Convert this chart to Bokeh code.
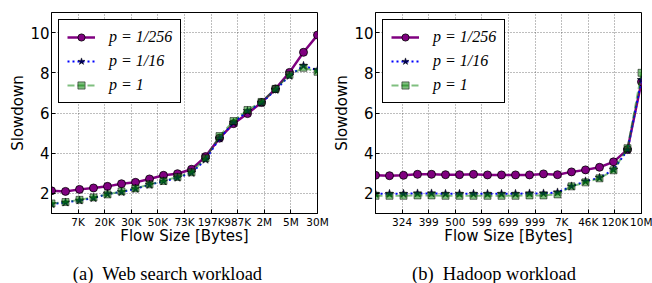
from bokeh.plotting import figure
from bokeh.layouts import row, column
from bokeh.models import FixedTicker, Legend, LegendItem, Range1d, Div
from bokeh.embed import file_html
from bokeh.resources import INLINE

# ---- data ----
series_names = ["p = 1/256", "p = 1/16", "p = 1"]

web_labels = ["7K", "20K", "30K", "50K", "73K", "197K", "987K", "2M", "5M", "30M"]
web_p256 = [2.13, 2.10, 2.20, 2.27, 2.35, 2.48, 2.55, 2.72, 2.90, 2.98,
            3.20, 3.83, 4.75, 5.47, 5.97, 6.52, 7.20, 8.02, 9.02, 9.88]
web_p16 = [1.47, 1.55, 1.65, 1.77, 1.97, 2.07, 2.23, 2.43, 2.60, 2.78,
           3.02, 3.68, 4.73, 5.52, 6.10, 6.50, 7.15, 7.85, 8.35, 8.13]
web_p1 = [1.50, 1.57, 1.68, 1.80, 1.95, 2.10, 2.25, 2.45, 2.62, 2.82,
          3.05, 3.75, 4.85, 5.60, 6.15, 6.55, 7.20, 7.90, 8.25, 8.05]

hadoop_labels = ["324", "399", "500", "599", "699", "999", "7K", "46K", "120K", "10M"]
hadoop_p256 = [2.90, 2.88, 2.90, 2.95, 2.95, 2.93, 2.93, 2.95, 2.92, 2.92,
               2.92, 2.92, 2.97, 2.93, 3.07, 3.17, 3.30, 3.57, 4.18, 7.55]
hadoop_p16 = [1.98, 1.98, 1.98, 2.00, 2.00, 1.98, 1.98, 1.98, 1.98, 1.98,
              1.98, 2.00, 2.00, 2.05, 2.35, 2.60, 2.78, 3.18, 4.15, 7.65]
hadoop_p1 = [1.88, 1.88, 1.88, 1.90, 1.90, 1.88, 1.88, 1.88, 1.88, 1.88,
             1.88, 1.90, 1.90, 1.95, 2.35, 2.55, 2.75, 3.15, 4.25, 8.00]

captions = ["(a)  Web search workload", "(b)  Hadoop workload"]
y_ticks = [2, 4, 6, 8, 10]

PURPLE = "#800080"
BLUE = "#0000ff"
GREEN = "#008000"


def make_fig(labels, s256, s16, s1, width, left_border, right_border):
    n = len(s256)
    nt = len(labels)
    xs = [i * nt / (n - 1) for i in range(n)]
    tick_pos = list(range(1, nt + 1))

    p = figure(width=width, height=250, x_range=Range1d(0, nt), y_range=Range1d(1, 11),
               output_backend="svg", toolbar_location=None,
               min_border_left=left_border, min_border_right=right_border,
               min_border_top=12, min_border_bottom=37)
    p.outline_line_color = "black"
    p.outline_line_width = 1
    p.outline_line_alpha = 1

    p.xaxis.ticker = FixedTicker(ticks=tick_pos)
    p.xaxis.major_label_overrides = {t: lab for t, lab in zip(tick_pos, labels)}
    p.yaxis.ticker = FixedTicker(ticks=y_ticks)
    for ax in (p.xaxis, p.yaxis):
        ax.major_tick_in = 4
        ax.major_tick_out = 0
        ax.minor_tick_line_color = None
        ax.axis_line_color = "black"
        ax.major_label_text_font = "DejaVu Sans"
        ax.axis_label_text_font = "DejaVu Sans"
        ax.axis_label_text_font_style = "normal"
        ax.axis_label_text_font_size = "15px"
        ax.axis_label_text_color = "black"
        ax.major_label_text_color = "black"
    p.xaxis.major_label_text_font_size = "10.5px"
    p.xaxis.major_label_standoff = 2
    p.xaxis.axis_label = "Flow Size [Bytes]"
    p.xaxis.axis_label_standoff = -4
    p.yaxis.major_label_text_font_size = "15px"
    p.yaxis.major_label_standoff = 2
    p.yaxis.axis_label = "Slowdown"
    p.yaxis.axis_label_standoff = 0

    p.grid.grid_line_color = "#333333"
    p.grid.grid_line_dash = "1 2"
    p.grid.grid_line_width = 0.8
    p.grid.grid_line_alpha = 0.8

    l1 = p.line(xs, s256, line_color=PURPLE, line_width=2.5)
    m1 = p.scatter(xs, s256, marker="circle", size=8, fill_color=PURPLE, line_color="black", line_width=0.8)
    l2 = p.line(xs, s16, line_color=BLUE, line_width=2, line_dash="2 3")
    m2 = p.scatter(xs, s16, marker="star", size=9, fill_color="#000060", line_color="black", line_width=0.5)
    l3 = p.line(xs, s1, line_color=GREEN, line_width=2, line_dash="7 3", line_alpha=0.5)
    m3 = p.scatter(xs, s1, marker="square", size=7, fill_color=GREEN, fill_alpha=0.5,
                   line_color="black", line_alpha=0.5, line_width=1)

    legend = Legend(items=[LegendItem(label=series_names[0], renderers=[l1, m1]),
                           LegendItem(label=series_names[1], renderers=[l2, m2]),
                           LegendItem(label=series_names[2], renderers=[l3, m3])],
                    location="top_left", margin=7, padding=8, spacing=6,
                    glyph_width=28, glyph_height=18, label_height=18, label_standoff=14,
                    label_text_font="Liberation Serif", label_text_font_style="italic",
                    label_text_font_size="16px", label_text_color="black",
                    border_line_color="black", border_line_width=1, border_line_alpha=1,
                    background_fill_alpha=1)
    p.add_layout(legend, "center")
    return p


def make_caption(text, width, pad_left):
    return Div(text=text, width=width, height=33,
               styles={"margin": "0", "padding-top": "14px", "padding-left": f"{pad_left}px",
                       "box-sizing": "border-box", "text-align": "center", "line-height": "20px",
                       "font-family": "Liberation Serif", "font-size": "18.5px", "color": "black",
                       "white-space": "pre"})


p1 = make_fig(web_labels, web_p256, web_p16, web_p1, 330, 51, 13)
p2 = make_fig(hadoop_labels, hadoop_p256, hadoop_p16, hadoop_p1, 322, 45, 11)
c1 = make_caption(captions[0], 330, 5)
c2 = make_caption(captions[1], 322, 6)

layout = column(row(p1, p2), row(c1, c2))
open("out.html", "w").write(file_html(layout, INLINE))
